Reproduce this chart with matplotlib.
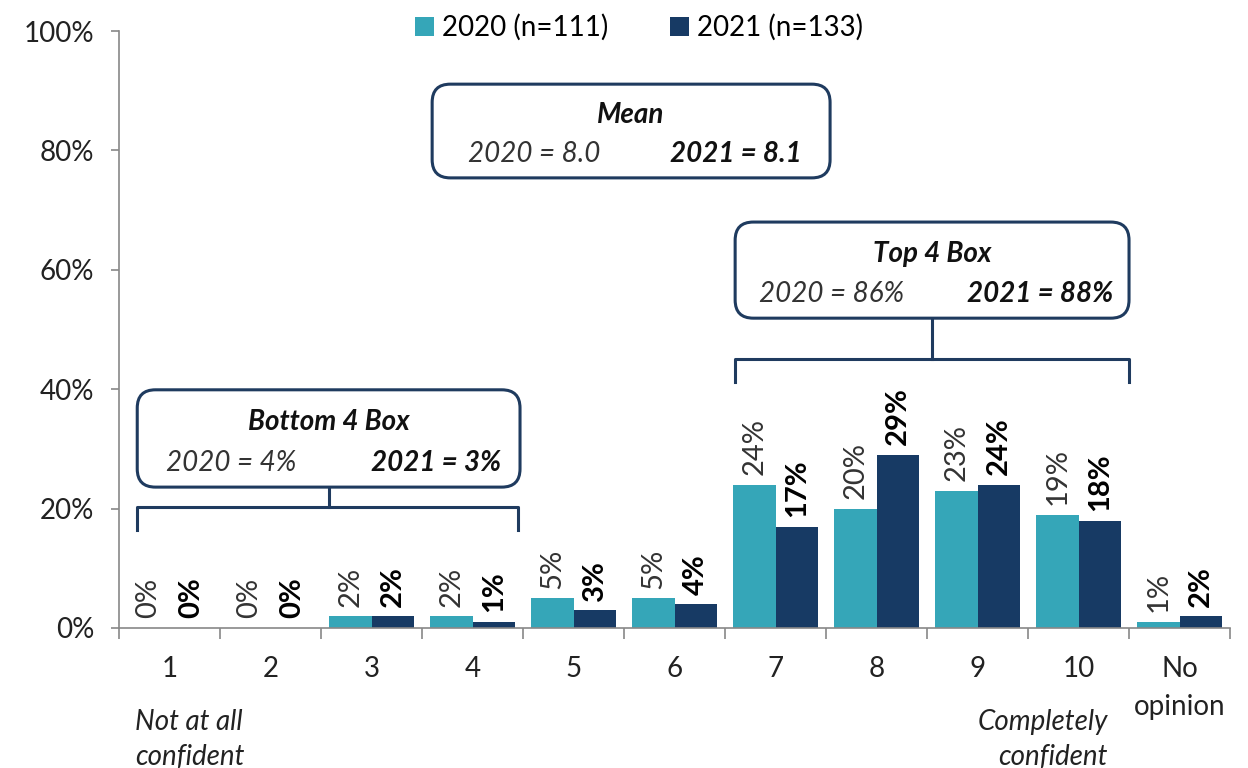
import numpy as np
import matplotlib.pyplot as plt
from matplotlib.patches import FancyBboxPatch

plt.rcParams['font.family'] = ['Lato', 'DejaVu Sans']

categories = ['1', '2', '3', '4', '5', '6', '7', '8', '9', '10', 'No\nopinion']
vals_2020 = [0, 0, 2, 2, 5, 5, 24, 20, 23, 19, 1]
vals_2021 = [0, 0, 2, 1, 3, 4, 17, 29, 24, 18, 2]
series_names = ['2020 (n=111)', '2021 (n=133)']

teal = '#35a6b8'
navy = '#173a64'
box_col = '#1f3b5f'
fs = 20

fig = plt.figure(figsize=(12.48, 7.68), dpi=100)
ax = fig.add_axes([0.0954, 0.1823, 0.8902, 0.7773])

x = np.arange(len(categories))
w = 0.42
ax.bar(x - w / 2, vals_2020, w, color=teal, label=series_names[0])
ax.bar(x + w / 2, vals_2021, w, color=navy, label=series_names[1])

# value labels, rotated
for xi, v in zip(x, vals_2020):
    ax.text(xi - w / 2, v + 1.6, f'{v}%', rotation=90, ha='center', va='bottom',
            fontsize=fs + 1, color='#333333')
for xi, v in zip(x, vals_2021):
    ax.text(xi + w / 2, v + 1.6, f'{v}%', rotation=90, ha='center', va='bottom',
            fontsize=fs + 1, color='black', fontweight='bold')

ax.set_xlim(-0.5, len(categories) - 0.5)
ax.set_ylim(0, 100)
ax.set_yticks(range(0, 101, 20))
ax.set_yticklabels([f'{t}%' for t in range(0, 101, 20)])
ax.set_xticks(x)
ax.set_xticklabels(categories, linespacing=1.6)
ax.set_xticks(np.arange(-0.5, len(categories)), minor=True)
ax.tick_params(axis='x', which='major', length=0, pad=20, labelsize=fs, colors='#222222')
ax.tick_params(axis='x', which='minor', length=8, width=1.2, color='#888888')
ax.tick_params(axis='y', length=6, width=1.2, color='#888888', labelsize=fs,
               labelcolor='#222222', pad=12)
for s in ['top', 'right']:
    ax.spines[s].set_visible(False)
for s in ['left', 'bottom']:
    ax.spines[s].set_color('#888888')
    ax.spines[s].set_linewidth(1.2)

# px per data unit, for rounding corners evenly
aspect = (0.8902 * 1248 / len(categories)) / (0.7773 * 768 / 100)


def callout(x0, x1, y0, y1, title, left, right, lpad, rpad, brace=None):
    box = FancyBboxPatch((x0, y0), x1 - x0, y1 - y0,
                         boxstyle='round,pad=0,rounding_size=0.18',
                         mutation_aspect=aspect, fc='white', ec=box_col, lw=2.2,
                         zorder=5, clip_on=False)
    ax.add_patch(box)
    xm = (x0 + x1) / 2
    ax.text(xm, y1 - (y1 - y0) * 0.33, title, ha='center', va='center', fontsize=fs,
            style='italic', fontweight='bold', color='#111111', zorder=6)
    ax.text(x0 + (x1 - x0) * lpad, y0 + (y1 - y0) * 0.25, left, ha='left', va='center',
            fontsize=fs, style='italic', color='#333333', zorder=6)
    ax.text(x1 - (x1 - x0) * rpad, y0 + (y1 - y0) * 0.25, right, ha='right', va='center',
            fontsize=fs, style='italic', fontweight='bold', color='#111111', zorder=6)
    if brace is not None:
        bx0, bx1, by, bdrop = brace
        ax.plot([bx0, bx0, bx1, bx1], [by - bdrop, by, by, by - bdrop],
                color=box_col, lw=2.2, solid_joinstyle='round', zorder=4, clip_on=False)
        ax.plot([xm, xm], [by, y0], color=box_col, lw=2.2, zorder=4)


callout(2.6, 6.54, 75.4, 91.1, 'Mean', '2020 = 8.0', '2021 = 8.1', 0.09, 0.07)
callout(-0.32, 3.47, 23.6, 39.9, 'Bottom 4 Box', '2020 = 4%', '2021 = 3%', 0.075, 0.05,
        brace=(-0.32, 3.45, 20.2, 3.8))
callout(5.6, 9.5, 51.9, 68.0, 'Top 4 Box', '2020 = 86%', '2021 = 88%', 0.06, 0.04,
        brace=(5.6, 9.5, 45.0, 3.8))

# scale end labels
ax.text(-0.34, -13.5, 'Not at all\nconfident', ha='left', va='top', fontsize=fs,
        style='italic', color='#222222', linespacing=1.45)
ax.text(9.29, -13.5, 'Completely\nconfident', ha='right', va='top', fontsize=fs,
        style='italic', color='#222222', linespacing=1.45)

ax.legend(loc='upper center', bbox_to_anchor=(0.468, 1.07), ncol=2, frameon=False,
          fontsize=fs, handlelength=0.7, handleheight=0.7, handletextpad=0.3,
          columnspacing=2.2)

plt.savefig('out.png', dpi=100)
